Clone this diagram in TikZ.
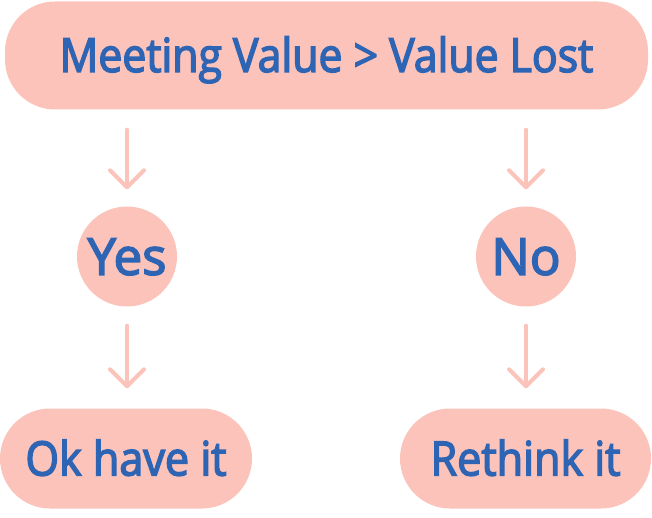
\documentclass[tikz,border=0pt]{standalone}
\usepackage{fontspec}
\setmainfont{Open Sans}
\newfontfamily\condfont[FakeStretch=0.91,FakeBold=3]{Open Sans}
\newfontfamily\circfont[FakeBold=3]{Open Sans}
\usetikzlibrary{arrows.meta}
\definecolor{pinkfill}{HTML}{FCC3BA}
\definecolor{txtblue}{HTML}{2D64B3}
\begin{document}
\begin{tikzpicture}[x=1pt,y=-1pt,
  pill/.style={fill=pinkfill, draw=none, rounded corners=50pt, inner sep=0pt, text=txtblue, text depth=0pt},
  circ/.style={circle, fill=pinkfill, draw=none, minimum size=100pt, inner sep=0pt, text=txtblue, text height=36.5pt, text depth=0pt, font=\circfont\fontsize{51}{51}\selectfont},
  arr/.style={draw=pinkfill, line width=4pt, line cap=round, -{Straight Barb[length=17pt,width=34pt,line width=4pt,round]}}
]
\useasboundingbox (0,0) rectangle (652,518);
\node[pill, minimum width=643pt, minimum height=108pt, text height=33pt, font=\condfont\fontsize{47}{47}\selectfont] (top) at (326.5,55.5) {Meeting Value > Value Lost};
\node[circ] (yes) at (127,256.5) {Yes};
\node[circ] (no) at (526,256.5) {No};
\node[pill, minimum width=252pt, minimum height=100pt, text height=34pt, font=\condfont\fontsize{47.4}{47.4}\selectfont] (ok) at (126,458.5) {Ok have it};
\node[pill, minimum width=251pt, minimum height=100pt, text height=34pt, font=\condfont\fontsize{47.4}{47.4}\selectfont] (re) at (525.5,458.5) {Rethink it};
\draw[arr, shorten <=20pt, shorten >=17pt] (top.south -| yes.north) -- (yes.north);
\draw[arr, shorten <=20pt, shorten >=17pt] (top.south -| no.north) -- (no.north);
\draw[arr, shorten <=19pt, shorten >=20pt] (yes.south) -- (ok.north -| yes.south);
\draw[arr, shorten <=19pt, shorten >=20pt] (no.south) -- (re.north -| no.south);
\end{tikzpicture}
\end{document}
